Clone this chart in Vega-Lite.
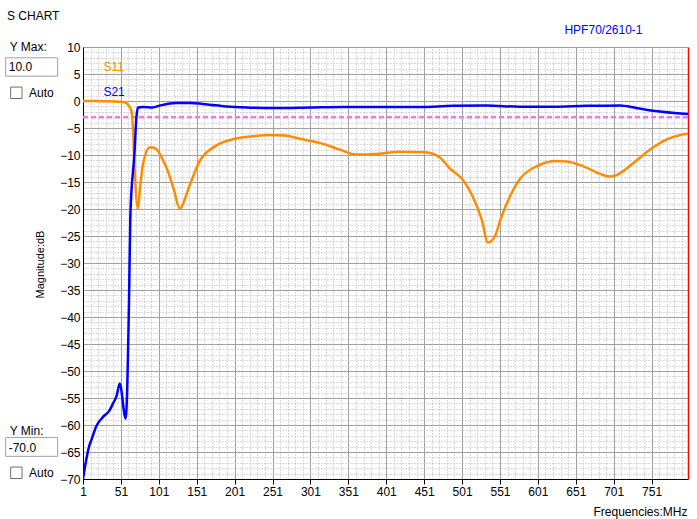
{
  "$schema": "https://vega.github.io/schema/vega-lite/v6.json",
  "width": 605,
  "height": 432,
  "autosize": {"type": "none"},
  "padding": {"left": 83, "top": 47, "right": 9, "bottom": 40},
  "background": "white",
  "config": {"view": {"stroke": null}, "font": "Liberation Sans"},
  "title": {"text": "S CHART", "anchor": "start", "frame": "group", "dx": -76, "offset": 0, "fontSize": 12, "fontWeight": "normal", "color": "#000000"},
  "datasets": {
    "series": [
      {"series": "S11", "freq": 1, "db": 0.0},
      {"series": "S11", "freq": 20, "db": -0.02},
      {"series": "S11", "freq": 36, "db": -0.05},
      {"series": "S11", "freq": 54, "db": -0.2},
      {"series": "S11", "freq": 60, "db": -0.6},
      {"series": "S11", "freq": 65, "db": -1.9},
      {"series": "S11", "freq": 67, "db": -5.5},
      {"series": "S11", "freq": 69, "db": -12.4},
      {"series": "S11", "freq": 73.5, "db": -19.9},
      {"series": "S11", "freq": 76, "db": -16.5},
      {"series": "S11", "freq": 80, "db": -11.8},
      {"series": "S11", "freq": 89, "db": -8.6},
      {"series": "S11", "freq": 93, "db": -8.6},
      {"series": "S11", "freq": 100, "db": -9.3},
      {"series": "S11", "freq": 106, "db": -10.8},
      {"series": "S11", "freq": 113, "db": -13},
      {"series": "S11", "freq": 121, "db": -16.5},
      {"series": "S11", "freq": 128.5, "db": -19.9},
      {"series": "S11", "freq": 142, "db": -15.5},
      {"series": "S11", "freq": 155, "db": -11.1},
      {"series": "S11", "freq": 175, "db": -8.4},
      {"series": "S11", "freq": 201, "db": -7.0},
      {"series": "S11", "freq": 227, "db": -6.5},
      {"series": "S11", "freq": 247, "db": -6.3},
      {"series": "S11", "freq": 267, "db": -6.4},
      {"series": "S11", "freq": 287, "db": -7.0},
      {"series": "S11", "freq": 314, "db": -7.8},
      {"series": "S11", "freq": 340, "db": -9.0},
      {"series": "S11", "freq": 360, "db": -9.9},
      {"series": "S11", "freq": 386, "db": -9.8},
      {"series": "S11", "freq": 419, "db": -9.4},
      {"series": "S11", "freq": 452, "db": -9.5},
      {"series": "S11", "freq": 472, "db": -10.5},
      {"series": "S11", "freq": 485, "db": -12.5},
      {"series": "S11", "freq": 502, "db": -14.6},
      {"series": "S11", "freq": 515, "db": -17.7},
      {"series": "S11", "freq": 527, "db": -22},
      {"series": "S11", "freq": 535, "db": -26.2},
      {"series": "S11", "freq": 544, "db": -25.1},
      {"series": "S11", "freq": 553, "db": -21.4},
      {"series": "S11", "freq": 564, "db": -17.7},
      {"series": "S11", "freq": 577, "db": -14.5},
      {"series": "S11", "freq": 599, "db": -12.1},
      {"series": "S11", "freq": 626, "db": -11.1},
      {"series": "S11", "freq": 639, "db": -11.2},
      {"series": "S11", "freq": 661, "db": -12.1},
      {"series": "S11", "freq": 683, "db": -13.5},
      {"series": "S11", "freq": 696, "db": -14.0},
      {"series": "S11", "freq": 705, "db": -13.7},
      {"series": "S11", "freq": 727, "db": -11.5},
      {"series": "S11", "freq": 749, "db": -9.0},
      {"series": "S11", "freq": 771, "db": -7.1},
      {"series": "S11", "freq": 799, "db": -6.0},
      {"series": "S21", "freq": 1, "db": -70},
      {"series": "S21", "freq": 9, "db": -64},
      {"series": "S21", "freq": 12, "db": -62.8},
      {"series": "S21", "freq": 18.7, "db": -60.2},
      {"series": "S21", "freq": 27.4, "db": -58.5},
      {"series": "S21", "freq": 36, "db": -57.3},
      {"series": "S21", "freq": 40.6, "db": -56},
      {"series": "S21", "freq": 45.5, "db": -54.5},
      {"series": "S21", "freq": 49.4, "db": -52.3},
      {"series": "S21", "freq": 57.3, "db": -58.8},
      {"series": "S21", "freq": 61.7, "db": -37},
      {"series": "S21", "freq": 63.5, "db": -21},
      {"series": "S21", "freq": 69, "db": -9.4},
      {"series": "S21", "freq": 71.4, "db": -3.1},
      {"series": "S21", "freq": 73.6, "db": -1.2},
      {"series": "S21", "freq": 80, "db": -1.1},
      {"series": "S21", "freq": 93, "db": -1.2},
      {"series": "S21", "freq": 102, "db": -0.85},
      {"series": "S21", "freq": 115, "db": -0.45},
      {"series": "S21", "freq": 124, "db": -0.35},
      {"series": "S21", "freq": 142, "db": -0.35},
      {"series": "S21", "freq": 159, "db": -0.55},
      {"series": "S21", "freq": 175, "db": -0.8},
      {"series": "S21", "freq": 190, "db": -1.0},
      {"series": "S21", "freq": 217, "db": -1.2},
      {"series": "S21", "freq": 256, "db": -1.3},
      {"series": "S21", "freq": 300, "db": -1.2},
      {"series": "S21", "freq": 344, "db": -1.1},
      {"series": "S21", "freq": 388, "db": -1.1},
      {"series": "S21", "freq": 445, "db": -1.1},
      {"series": "S21", "freq": 489, "db": -0.9},
      {"series": "S21", "freq": 533, "db": -0.85},
      {"series": "S21", "freq": 577, "db": -1.05},
      {"series": "S21", "freq": 621, "db": -1.05},
      {"series": "S21", "freq": 665, "db": -0.9},
      {"series": "S21", "freq": 709, "db": -0.85},
      {"series": "S21", "freq": 731, "db": -1.3},
      {"series": "S21", "freq": 753, "db": -1.8},
      {"series": "S21", "freq": 799, "db": -2.4}
    ],
    "threshold": [{"level": -3}],
    "labels": [
      {"series": "S11", "freq": 27.9, "db": 6.26},
      {"series": "S21", "freq": 27.9, "db": 1.63}
    ],
    "ui": [
      {"label": "Y Max:", "freq": -95.7, "db": 10.04},
      {"label": "10.0", "freq": -97.0, "db": 6.26},
      {"label": "Auto", "freq": -70.2, "db": 1.52},
      {"label": "Y Min:", "freq": -95.7, "db": -61.15},
      {"label": "-70.0", "freq": -97.0, "db": -64.35},
      {"label": "Auto", "freq": -70.2, "db": -68.85}
    ],
    "boxes": [
      {"freq": -86.9, "db": 1.52},
      {"freq": -86.9, "db": -68.85}
    ],
    "spin": [
      {"f1": -101, "f2": -32.4, "d1": 8.0, "d2": 4.6},
      {"f1": -101, "f2": -32.4, "d1": -62.3, "d2": -65.8}
    ]
  },
  "resolve": {"axis": {"x": "independent", "y": "independent"}},
  "layer": [
    {
      "data": {"name": "labels"},
      "mark": {"type": "text", "align": "left", "baseline": "middle", "fontSize": 12, "clip": false},
      "encoding": {
        "x": {"field": "freq", "type": "quantitative", "scale": {"domain": [1, 799], "nice": false, "zero": false},
          "axis": {"orient": "top", "values": [11,21,31,41,61,71,81,91,111,121,131,141,161,171,181,191,211,221,231,241,261,271,281,291,311,321,331,341,361,371,381,391,411,421,431,441,461,471,481,491,511,521,531,541,561,571,581,591,611,621,631,641,661,671,681,691,711,721,731,741,761,771,781,791],
            "grid": true, "gridColor": "#b4b4b4", "gridDash": [1, 2], "gridWidth": 1, "labels": false, "ticks": false, "domain": false,
            "title": "HPF70/2610-1", "titleColor": "#0000ff", "titleFontSize": 12, "titleFontWeight": "normal", "titleAlign": "right", "titleAnchor": null, "titleX": 559, "titleY": -18, "titleBaseline": "middle"}},
        "y": {"field": "db", "type": "quantitative", "scale": {"domain": [-70, 10], "nice": false, "zero": false},
          "axis": {"orient": "right", "values": [-69,-68,-67,-66,-64,-63,-62,-61,-59,-58,-57,-56,-54,-53,-52,-51,-49,-48,-47,-46,-44,-43,-42,-41,-39,-38,-37,-36,-34,-33,-32,-31,-29,-28,-27,-26,-24,-23,-22,-21,-19,-18,-17,-16,-14,-13,-12,-11,-9,-8,-7,-6,-4,-3,-2,-1,1,2,3,4,6,7,8,9],
            "grid": true, "gridColor": "#b4b4b4", "gridDash": [1, 2], "gridWidth": 1, "labels": false, "ticks": false,
            "domain": true, "domainColor": "#ff0000", "domainWidth": 1.5, "title": null}},
        "text": {"field": "series", "type": "nominal"},
        "color": {"field": "series", "type": "nominal", "scale": {"domain": ["S11", "S21"], "range": ["#ff8c00", "#0000ff"]}, "legend": null}
      }
    },
    {
      "data": {"name": "threshold"},
      "mark": {"type": "rule", "color": "#ee7aee", "strokeWidth": 2.5, "strokeDash": [5, 3]},
      "encoding": {
        "y": {"field": "level", "type": "quantitative", "axis": null}
      }
    },
    {
      "data": {"name": "series"},
      "mark": {"type": "line", "strokeWidth": 2.5, "clip": true, "interpolate": "monotone"},
      "encoding": {
        "x": {"field": "freq", "type": "quantitative",
          "axis": {"orient": "bottom", "values": [1,51,101,151,201,251,301,351,401,451,501,551,601,651,701,751],
            "grid": true, "gridColor": "#a0a0a0", "gridWidth": 1, "domainColor": "#000000", "domainWidth": 1,
            "tickColor": "#000000", "tickSize": 5, "labelPadding": 2, "labelFontSize": 12, "labelColor": "#000000", "labelFlush": false,
            "title": "Frequencies:MHz", "titleFontSize": 12, "titleFontWeight": "normal", "titleColor": "#000000", "titleAlign": "right", "titleAnchor": null, "titleX": 604, "titleY": 32, "titleBaseline": "middle"}},
        "y": {"field": "db", "type": "quantitative",
          "axis": {"orient": "left", "values": [-70,-65,-60,-55,-50,-45,-40,-35,-30,-25,-20,-15,-10,-5,0,5,10],
            "grid": true, "gridColor": "#a0a0a0", "gridWidth": 1, "domainColor": "#000000", "domainWidth": 1,
            "ticks": false, "labelPadding": 3, "labelFontSize": 12, "labelColor": "#000000", "labelFlush": false,
            "title": "Magnitude:dB", "titleFontSize": 11, "titleFontWeight": "normal", "titleColor": "#000000", "titleX": -43, "titleY": 217, "titleAlign": "center", "titleBaseline": "middle", "titleAnchor": null}},
        "color": {"field": "series", "type": "nominal", "legend": null}
      }
    },
    {
      "data": {"name": "spin"},
      "mark": {"type": "rect", "fill": "#ffffff", "stroke": "#a0a0a0", "strokeWidth": 1, "clip": false},
      "encoding": {
        "x": {"field": "f1", "type": "quantitative", "axis": null},
        "x2": {"field": "f2"},
        "y": {"field": "d1", "type": "quantitative", "axis": null},
        "y2": {"field": "d2"}
      }
    },
    {
      "data": {"name": "ui"},
      "mark": {"type": "text", "align": "left", "baseline": "middle", "fontSize": 12, "color": "#000000", "clip": false},
      "encoding": {
        "x": {"field": "freq", "type": "quantitative", "axis": null},
        "y": {"field": "db", "type": "quantitative", "axis": null},
        "text": {"field": "label", "type": "nominal"}
      }
    },
    {
      "data": {"name": "boxes"},
      "mark": {"type": "point", "shape": "square", "size": 130, "filled": false, "stroke": "#333333", "strokeWidth": 1, "clip": false},
      "encoding": {
        "x": {"field": "freq", "type": "quantitative", "axis": null},
        "y": {"field": "db", "type": "quantitative", "axis": null}
      }
    }
  ]
}
